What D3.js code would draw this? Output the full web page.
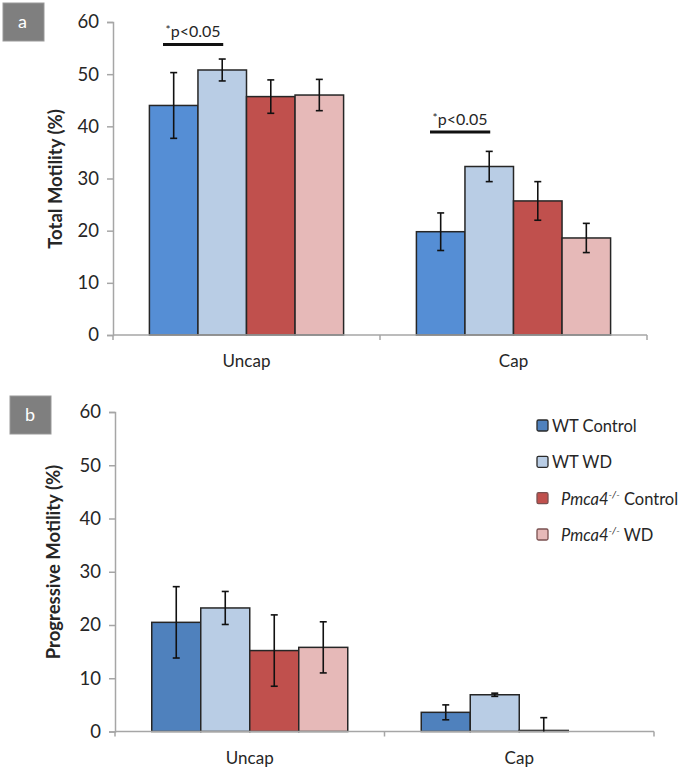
<!DOCTYPE html>
<html>
<head>
<meta charset="utf-8">
<script src="https://cdn.jsdelivr.net/npm/d3@7"></script>
<style>
  body { margin: 0; background: #fff; }
  svg text { font-family: Lato, "Open Sans", sans-serif; fill: #262626; }
</style>
</head>
<body>
<svg id="chart" width="695" height="769"></svg>
<script>
// categories and series
const groups = ["Uncap", "Cap"];
const seriesNames = ["WT Control", "WT WD", "Pmca4 Control", "Pmca4 WD"];
const yTicks = [0, 10, 20, 30, 40, 50, 60];

// panel a: total motility (mean, error)
const totalMean = [[44.0, 50.8, 45.7, 46.0], [19.8, 32.3, 25.7, 18.6]];
const totalErr  = [[6.3, 2.1, 3.2, 3.0], [3.6, 2.9, 3.7, 2.8]];

// panel b: progressive motility (mean, error)
const progMean = [[20.5, 23.2, 15.2, 15.8], [3.6, 6.9, 0.2, 0]];
const progErr  = [[6.7, 3.1, 6.7, 4.8], [1.4, 0.3, 2.4, 0]];

// significance brackets for panel a (group index, y value of the line)
const sigGroups = [0, 1];
const sigLevels = [55.7, 38.9];

const svg = d3.select("#chart");
const axisColor = "#a6a6a6";

function drawPanel(opt){
    const g = svg.append("g");
    const x = d3.scaleBand().domain(groups).range([opt.x0, opt.x1]);
    const xs = d3.scaleBand().domain(seriesNames).range([0, x.bandwidth()]).paddingOuter(0.75);
    const y = d3.scaleLinear().domain([0, 60]).range([opt.y0, opt.y1]);

    // y axis
    const ya = g.append("g")
        .attr("transform", `translate(${opt.x0},0)`)
        .call(d3.axisLeft(y).tickValues(yTicks).tickSize(6).tickPadding(8));
    ya.selectAll("path, line").attr("stroke", axisColor).attr("stroke-width", 1.5);
    ya.selectAll("text").attr("font-size", 18.5).attr("fill", "#262626")
        .style("font-family", "Lato, sans-serif");

    // y title
    g.append("text")
        .attr("transform", `translate(${opt.titleX},${opt.titleY}) rotate(-90)`)
        .attr("text-anchor", "middle")
        .attr("font-weight", "bold")
        .attr("font-size", 18.5)
        .text(opt.title);

    // bars
    groups.forEach((grp, gi) => {
        seriesNames.forEach((s, si) => {
            const v = opt.mean[gi][si];
            const bx = x(grp) + xs(s);
            g.append("rect")
                .attr("x", bx)
                .attr("y", y(v))
                .attr("width", xs.bandwidth())
                .attr("height", y(0) - y(v))
                .attr("fill", opt.colors[si])
                .attr("stroke", "#262626")
                .attr("stroke-width", 1.5);
        });
    });

    // x axis with Excel style ticks between categories
    g.append("line")
        .attr("x1", opt.x0).attr("x2", opt.x1)
        .attr("y1", y(0)).attr("y2", y(0))
        .attr("stroke", axisColor).attr("stroke-width", 1.5);
    const bounds = groups.map(d => x(d)).concat([x(groups[groups.length-1]) + x.bandwidth()]);
    g.selectAll(".xt").data(bounds).enter().append("line")
        .attr("x1", d => d).attr("x2", d => d)
        .attr("y1", y(0)).attr("y2", y(0) + 5)
        .attr("stroke", axisColor).attr("stroke-width", 1.5);
    g.selectAll(".xl").data(groups).enter().append("text")
        .attr("x", d => x(d) + x.bandwidth()/2)
        .attr("y", y(0) + 32)
        .attr("text-anchor", "middle")
        .attr("font-size", 17)
        .text(d => d);

    // error bars
    groups.forEach((grp, gi) => {
        seriesNames.forEach((s, si) => {
            const v = opt.mean[gi][si], e = opt.err[gi][si];
            if (e <= 0) return;
            const cx = x(grp) + xs(s) + xs.bandwidth()/2;
            const lo = Math.max(0, v - e), hi = v + e;
            const eb = g.append("g").attr("stroke", "#111").attr("stroke-width", 1.6);
            eb.append("line").attr("x1", cx).attr("x2", cx).attr("y1", y(lo)).attr("y2", y(hi));
            eb.append("line").attr("x1", cx-3.5).attr("x2", cx+3.5).attr("y1", y(hi)).attr("y2", y(hi));
            if (lo > 0) eb.append("line").attr("x1", cx-3.5).attr("x2", cx+3.5).attr("y1", y(lo)).attr("y2", y(lo));
        });
    });

    // panel letter
    g.append("rect")
        .attr("x", opt.labelX).attr("y", opt.labelY)
        .attr("width", 41).attr("height", 38)
        .attr("fill", "#7f7f7f").attr("stroke", "#999").attr("stroke-width", 1);
    g.append("text")
        .attr("x", opt.labelX + 15).attr("y", opt.labelY + 25)
        .attr("font-size", 18).style("fill", "#fff")
        .text(opt.letter);

    return {g, x, xs, y};
}

// panel a
const pa = drawPanel({
    x0: 113, x1: 647, y0: 335, y1: 22,
    title: "Total Motility (%)", titleX: 62, titleY: 179,
    mean: totalMean, err: totalErr,
    colors: ["#558ed5", "#b9cde5", "#c0504d", "#e6b9b8"],
    letter: "a", labelX: 3, labelY: 3
});

// significance markers
sigGroups.forEach((gi, k) => {
    const grp = groups[gi];
    const x1 = pa.x(grp) + pa.xs(seriesNames[0]) + pa.xs.bandwidth()*0.28;
    const x2 = pa.x(grp) + pa.xs(seriesNames[1]) + pa.xs.bandwidth()/2 + 1;
    const yy = pa.y(sigLevels[k]);
    pa.g.append("line")
        .attr("x1", x1).attr("x2", x2).attr("y1", yy).attr("y2", yy)
        .attr("stroke", "#111").attr("stroke-width", 3);
    const t = pa.g.append("text")
        .attr("x", (x1 + x2)/2).attr("y", yy - 7)
        .attr("text-anchor", "middle")
        .attr("font-size", 16);
    t.append("tspan").attr("font-size", 12).attr("dy", -3).text("*");
    t.append("tspan").attr("dy", 3).text("p<0.05");
});

// panel b
drawPanel({
    x0: 115, x1: 654, y0: 731.5, y1: 412,
    title: "Progressive Motility (%)", titleX: 60, titleY: 562,
    mean: progMean, err: progErr,
    colors: ["#4f81bd", "#b9cde5", "#c0504d", "#e6b9b8"],
    letter: "b", labelX: 10, labelY: 396
});

// legend
const legendColors = ["#4f81bd", "#b9cde5", "#c0504d", "#e6b9b8"];
const legendY = d3.scalePoint().domain(seriesNames).range([426, 535]);
const lg = svg.append("g");
seriesNames.forEach((s, i) => {
    const ly = legendY(s);
    lg.append("rect")
        .attr("x", 537).attr("y", ly - 6)
        .attr("width", 11).attr("height", 11).attr("rx", 1.5)
        .attr("fill", legendColors[i])
        .attr("stroke", i < 2 ? "#2a2a2a" : "#7a5050").attr("stroke-width", 1.3);
    const t = lg.append("text")
        .attr("x", i < 2 ? 552 : 561).attr("y", ly + 6)
        .attr("font-size", 16.5);
    if (s.startsWith("Pmca4")) {
        t.append("tspan").attr("font-style", "italic").text("Pmca4");
        t.append("tspan").attr("font-style", "italic").attr("font-size", 10).attr("dy", -7).text("-/-");
        t.append("tspan").attr("dy", 7).text(" " + s.replace("Pmca4 ", ""));
    } else {
        t.text(s);
    }
});
</script>
</body>
</html>
